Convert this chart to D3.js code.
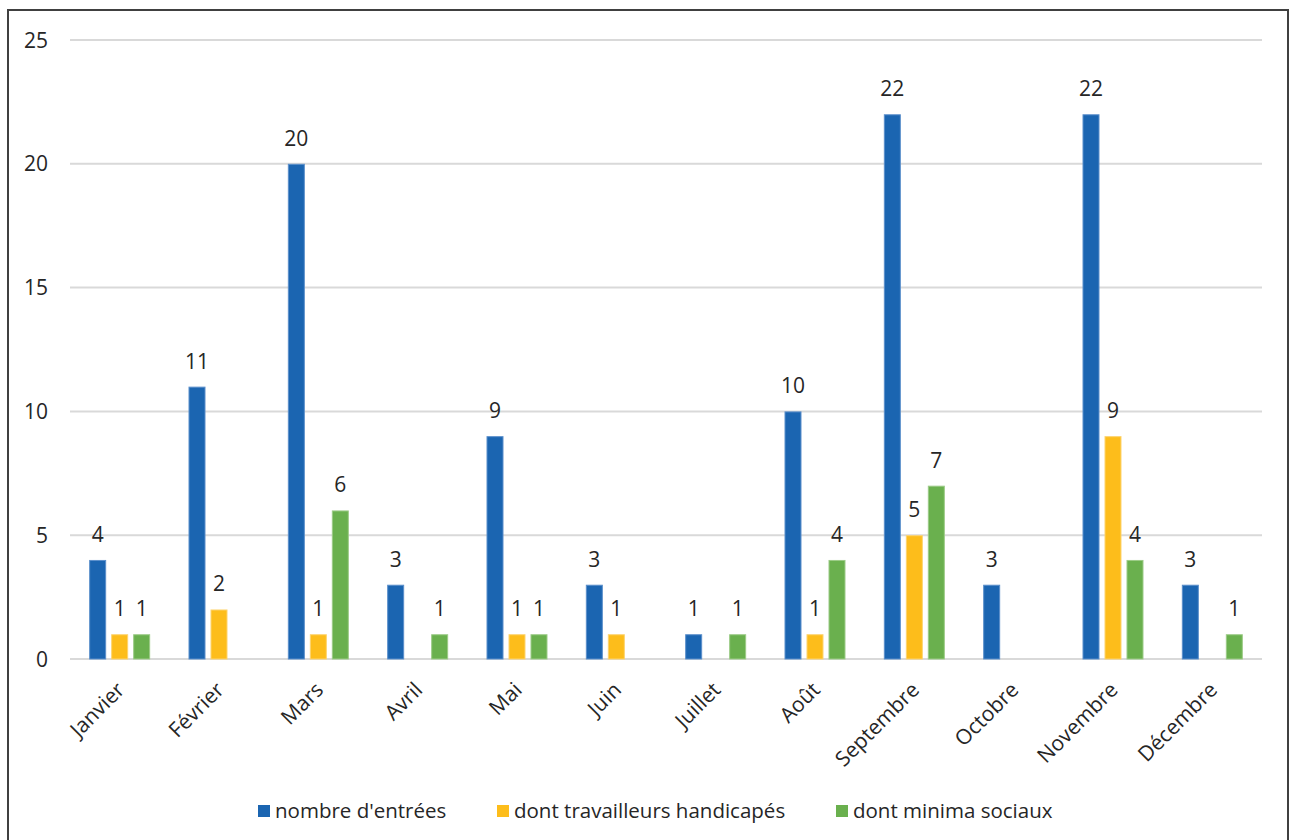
<!DOCTYPE html>
<html><head><meta charset="utf-8">
<script src="https://cdn.jsdelivr.net/npm/d3@7"></script>
<style>body{margin:0;background:#fff}svg{display:block}text{font-family:"Open Sans",sans-serif;fill:#262626}</style>
</head><body>
<svg id="c" width="1290" height="840"></svg>
<script>
const months = ["Janvier","Février","Mars","Avril","Mai","Juin","Juillet","Août","Septembre","Octobre","Novembre","Décembre"];
const seriesNames = ["nombre d'entrées","dont travailleurs handicapés","dont minima sociaux"];
const entrees = [4,11,20,3,9,3,1,10,22,3,22,3];
const handicapes = [1,2,1,null,1,1,null,1,5,null,9,null];
const minima = [1,null,6,1,1,null,1,4,7,null,4,1];
const colors = ["#1B65B1","#FDBD1B","#6AB04E"];
const strokes = ["#5B8FCB","#FDD36E","#9CCB87"];
const yTicks = [0,5,10,15,20,25];

const svg = d3.select("#c");
svg.append("rect").attr("x",8).attr("y",10).attr("width",1280).attr("height",840)
  .attr("fill","none").attr("stroke","#404040").attr("stroke-width",2);

const pLeft=70,pRight=1262,pTop=40,pBottom=659;
const y = d3.scaleLinear().domain([0,25]).range([pBottom,pTop]);
const x0 = d3.scaleBand().domain(months).range([pLeft,pRight]).padding(0);
const x1 = d3.scaleBand().domain(seriesNames).range([0,61]).paddingInner(0.227);
const groupOff = (x0.bandwidth()-61)/2;

svg.append("g").selectAll("line").data(yTicks).join("line")
  .attr("x1",pLeft).attr("x2",pRight).attr("y1",d=>y(d)).attr("y2",d=>y(d))
  .attr("stroke","#d9d9d9").attr("stroke-width",2);
svg.append("g").selectAll("text").data(yTicks).join("text")
  .attr("x",48).attr("y",d=>y(d)).attr("dy","0.36em").attr("text-anchor","end")
  .attr("font-size",21).text(d=>d);

const all = [entrees,handicapes,minima];
all.forEach((vals,si)=>{
  const g = svg.append("g");
  const data = months.map((m,i)=>({m,v:vals[i]})).filter(d=>d.v!=null);
  g.selectAll("rect").data(data).join("rect")
    .attr("x",d=>x0(d.m)+groupOff+x1(seriesNames[si])+0.5)
    .attr("width",x1.bandwidth()-1)
    .attr("y",d=>y(d.v)+0.5).attr("height",d=>y(0)-y(d.v)-0.5)
    .attr("fill",colors[si]).attr("stroke",strokes[si]).attr("stroke-width",1);
  g.selectAll("text").data(data).join("text")
    .attr("x",d=>x0(d.m)+groupOff+x1(seriesNames[si])+x1.bandwidth()/2)
    .attr("y",d=>y(d.v)-18).attr("text-anchor","middle").attr("font-size",21)
    .text(d=>d.v);
});

svg.append("g").selectAll("text").data(months).join("text")
  .attr("transform",d=>`translate(${x0(d)+x0.bandwidth()/2+1},${pBottom+27}) rotate(-45)`)
  .attr("text-anchor","end").attr("dy","0.35em").attr("font-size",21).text(d=>d);

const legX=[258,497,836];
seriesNames.forEach((s,i)=>{
  svg.append("rect").attr("x",legX[i]).attr("y",805).attr("width",12).attr("height",12).attr("fill",colors[i]);
  svg.append("text").attr("x",legX[i]+17).attr("y",811).attr("dy","0.35em").attr("font-size",20.5).text(s);
});
</script>
</body></html>
